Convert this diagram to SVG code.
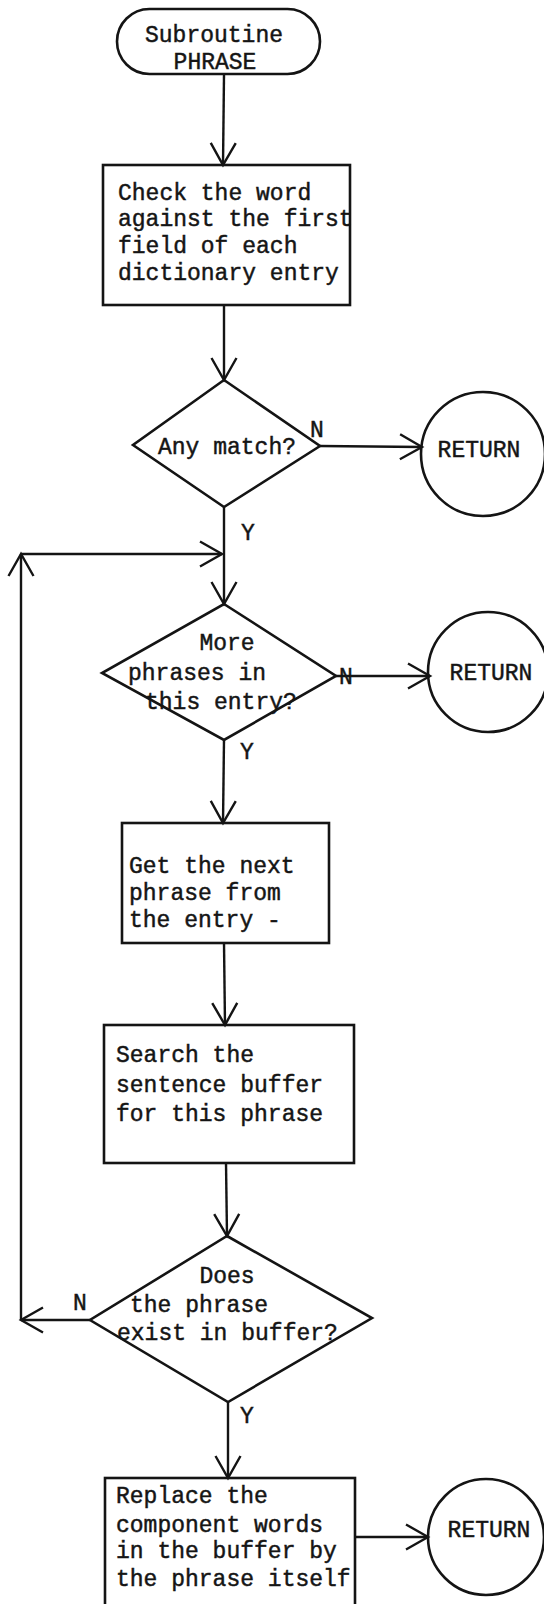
<svg xmlns="http://www.w3.org/2000/svg" width="544" height="1604" viewBox="0 0 544 1604">
  <style>
    .shape { fill: none; stroke: #141414; stroke-width: 2.6; stroke-linejoin: miter; }
    .wire { fill: none; stroke: #141414; stroke-width: 2.4; }
    .t { font-family: "Liberation Mono", "DejaVu Sans Mono", monospace; font-size: 23px; fill: #151515; stroke: #151515; stroke-width: 0.45; }
    .c { text-anchor: middle; }
  </style>
  <defs>
    <!-- open V arrowhead used on every flow line -->
    <marker id="vhead" markerUnits="userSpaceOnUse" markerWidth="40" markerHeight="40" refX="0" refY="0" orient="auto" overflow="visible">
      <path d="M-22,-12.5 L0,0 L-22,12.5" fill="none" stroke="#141414" stroke-width="2.4"/>
    </marker>
  </defs>
  <rect width="544" height="1604" fill="#ffffff"/>

  <g id="connectors">
    <line class="wire" x1="224" y1="75" x2="223" y2="165" marker-end="url(#vhead)"/>
    <line class="wire" x1="224" y1="305" x2="224" y2="380" marker-end="url(#vhead)"/>
    <line class="wire" x1="320" y1="446" x2="422" y2="447" marker-end="url(#vhead)"/>
    <line class="wire" x1="224" y1="507" x2="224" y2="604" marker-end="url(#vhead)"/>
    <line class="wire" x1="336" y1="676" x2="430" y2="676" marker-end="url(#vhead)"/>
    <line class="wire" x1="224" y1="740" x2="223" y2="823" marker-end="url(#vhead)"/>
    <line class="wire" x1="224" y1="943" x2="225" y2="1025" marker-end="url(#vhead)"/>
    <line class="wire" x1="226" y1="1163" x2="227" y2="1236" marker-end="url(#vhead)"/>
    <line class="wire" x1="228" y1="1402" x2="228" y2="1478" marker-end="url(#vhead)"/>
    <line class="wire" x1="355" y1="1537" x2="428" y2="1537" marker-end="url(#vhead)"/>
    <!-- loop back when the phrase is not in the buffer -->
    <line class="wire" x1="90" y1="1320" x2="21" y2="1320" marker-end="url(#vhead)"/>
    <line class="wire" x1="21" y1="1320" x2="21" y2="554" marker-end="url(#vhead)"/>
    <line class="wire" x1="21" y1="554" x2="222" y2="554" marker-end="url(#vhead)"/>
    <!-- branch labels -->
    <text class="t" x="310" y="437">N</text>
    <text class="t" x="241" y="540">Y</text>
    <text class="t" x="339" y="684">N</text>
    <text class="t" x="240" y="759">Y</text>
    <text class="t" x="73" y="1310">N</text>
    <text class="t" x="240" y="1423">Y</text>
  </g>

  <g id="start">
    <rect class="shape" x="117" y="9" width="203" height="65" rx="32.5" ry="32.5"/>
    <text class="t c" x="214" y="42">Subroutine</text>
    <text class="t c" x="215" y="69">PHRASE</text>
  </g>

  <g id="check-word">
    <rect class="shape" x="103" y="165" width="247" height="140"/>
    <text class="t" x="118" y="200">Check the word</text>
    <text class="t" x="118" y="226">against the first</text>
    <text class="t" x="118" y="253">field of each</text>
    <text class="t" x="118" y="280">dictionary entry</text>
  </g>

  <g id="any-match">
    <polygon class="shape" points="224,380 320,446 224,507 133,445"/>
    <text class="t" x="158" y="454">Any match?</text>
  </g>

  <g id="return-1">
    <circle class="shape" cx="483" cy="454" r="62"/>
    <text class="t c" x="479" y="457">RETURN</text>
  </g>

  <g id="more-phrases">
    <polygon class="shape" points="224,604 336,676 224,740 102,673"/>
    <text class="t c" x="227" y="650">More</text>
    <text class="t" x="128" y="680">phrases in</text>
    <text class="t" x="145" y="709">this entry?</text>
  </g>

  <g id="return-2">
    <circle class="shape" cx="488" cy="672" r="60"/>
    <text class="t c" x="491" y="680">RETURN</text>
  </g>

  <g id="next-phrase">
    <rect class="shape" x="122" y="823" width="207" height="120"/>
    <text class="t" x="129" y="873">Get the next</text>
    <text class="t" x="129" y="900">phrase from</text>
    <text class="t" x="129" y="927">the entry -</text>
  </g>

  <g id="search-buffer">
    <rect class="shape" x="104" y="1025" width="250" height="138"/>
    <text class="t" x="116" y="1062">Search the</text>
    <text class="t" x="116" y="1092">sentence buffer</text>
    <text class="t" x="116" y="1121">for this phrase</text>
  </g>

  <g id="phrase-exists">
    <polygon class="shape" points="227,1236 372,1318 228,1402 90,1320"/>
    <text class="t c" x="227" y="1283">Does</text>
    <text class="t" x="130" y="1312">the phrase</text>
    <text class="t" x="117" y="1340">exist in buffer?</text>
  </g>

  <g id="replace-words">
    <rect class="shape" x="105" y="1478" width="250" height="140"/>
    <text class="t" x="116" y="1503">Replace the</text>
    <text class="t" x="116" y="1532">component words</text>
    <text class="t" x="116" y="1558">in the buffer by</text>
    <text class="t" x="116" y="1586">the phrase itself</text>
  </g>

  <g id="return-3">
    <circle class="shape" cx="486" cy="1537" r="58"/>
    <text class="t c" x="489" y="1537">RETURN</text>
  </g>
</svg>
